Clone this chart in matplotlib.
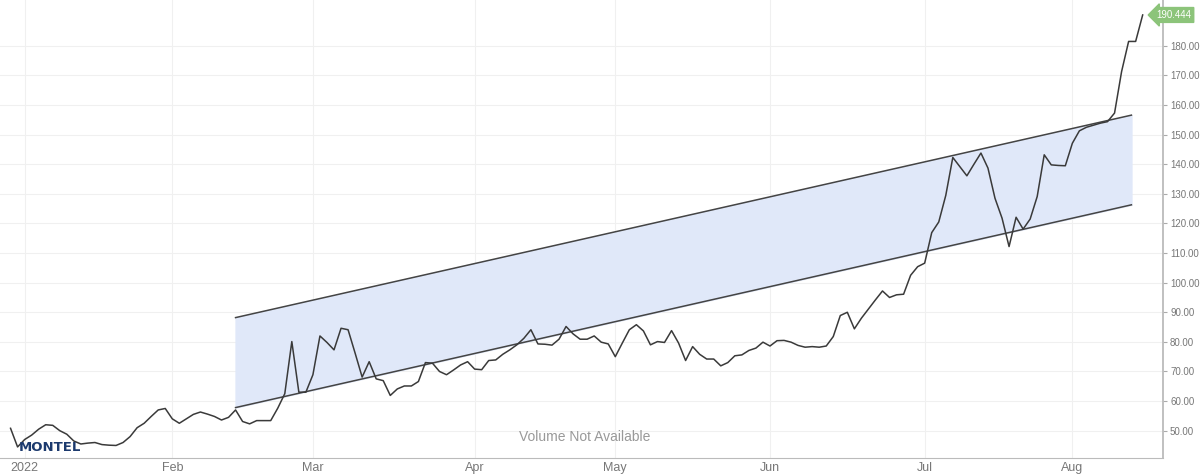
import matplotlib
matplotlib.use("Agg")
import matplotlib.pyplot as plt
import numpy as np
import pandas as pd

plt.rcParams['font.family'] = ['Liberation Sans', 'DejaVu Sans']

# trading days (Good Friday closed)
dates = pd.bdate_range('2021-12-30', '2022-08-15', freq='C', holidays=['2022-04-15'])

prices = [
    50.8, 44.5, 47.0, 48.5, 50.5, 52.0, 51.8, 50.0, 48.8, 46.5,
    45.5, 45.8, 46.0, 45.3, 45.1, 45.0, 46.0, 48.0, 51.0, 52.5,
    54.8, 57.0, 57.5, 54.0, 52.5, 54.0, 55.5, 56.3, 55.6, 54.8,
    53.6, 54.5, 57.0, 53.1, 52.3, 53.4, 53.4, 53.4, 57.6, 62.5,
    80.1, 63.0, 63.0, 68.9, 82.0, 79.8, 77.3, 84.6, 84.1, 76.2,
    68.1, 73.3, 67.5, 66.9, 61.9, 64.1, 65.1, 65.1, 66.6, 73.0,
    72.8, 70.0, 68.9, 70.5, 72.2, 73.3, 70.8, 70.6, 73.7, 73.9,
    75.8, 77.3, 79.0, 81.2, 84.1, 79.3, 79.2, 78.9, 80.9, 85.2,
    82.7, 80.9, 80.9, 82.0, 79.9, 79.3, 75.0, 79.6, 84.1, 85.8,
    83.7, 79.0, 80.1, 79.8, 83.8, 79.6, 73.7, 78.4, 75.8, 74.2,
    74.2, 71.9, 73.0, 75.3, 75.6, 77.1, 77.9, 79.9, 78.6, 80.4,
    80.5, 79.9, 78.8, 78.2, 78.4, 78.2, 78.6, 81.8, 88.9, 90.0,
    84.4, 88.0, 91.1, 94.2, 97.2, 95.0, 95.9, 96.1, 102.5, 105.4,
    106.6, 116.9, 120.5, 129.5, 142.3, 139.2, 136.1, 140.0, 143.8, 138.7,
    128.5, 121.8, 112.2, 122.1, 118.1, 121.5, 129.1, 143.2, 139.8, 139.6,
    139.5, 147.1, 151.3, 152.5, 153.2, 153.9, 154.4, 157.3, 171.3, 181.5,
    181.5, 190.444,
]

# trend channel (start/end in trading-day index)
channel_x = [32.0, 159.4]
channel_upper = [88.2, 156.6]
channel_lower = [57.8, 126.3]

month_labels = ['2022', 'Feb', 'Mar', 'Apr', 'May', 'Jun', 'Jul', 'Aug']
y_ticks = list(range(50, 190, 10))

x = np.arange(len(prices))
month_start = [int(np.argmax((dates.year == 2022) & (dates.month == m))) for m in range(1, 9)]

fig = plt.figure(figsize=(12.04, 4.75), dpi=100)
ax = fig.add_axes([0.0, 0.036, 0.966, 0.964])

ax.fill_between(channel_x, channel_lower, channel_upper, color='#e0e8f9', zorder=1)
ax.plot(channel_x, channel_upper, color='#444444', lw=1.1, zorder=2)
ax.plot(channel_x, channel_lower, color='#444444', lw=1.1, zorder=2)
ax.plot(x, prices, color='#3a3a3a', lw=1.1, zorder=3)

ax.set_xlim(-1.5, 163.9)
ax.set_ylim(40.8, 195.5)

ax.set_xticks(month_start)
ax.set_xticklabels(month_labels)
ax.set_yticks(y_ticks)
ax.set_yticklabels(['%.2f' % v for v in y_ticks])
ax.yaxis.tick_right()
ax.grid(True, color='#f0f0f0', lw=0.8)
ax.set_axisbelow(True)
ax.tick_params(axis='y', colors='#aaaaaa', labelcolor='#777777', labelsize=7, length=3, pad=2)
ax.tick_params(axis='x', colors='#cccccc', labelcolor='#777777', labelsize=9, length=0, pad=3)

for s in ['top', 'left']:
    ax.spines[s].set_visible(False)
ax.spines['bottom'].set_color('#bbbbbb')
ax.spines['right'].set_color('#bbbbbb')
ax.spines['right'].set_linewidth(1.3)

# last value tag
ax.annotate('%.3f' % prices[-1], xy=(0.993, prices[-1]), xycoords=('axes fraction', 'data'),
            xytext=(1, 0), textcoords='offset points', va='center', ha='left',
            fontsize=7, color='white',
            bbox=dict(boxstyle='larrow,pad=0.25', fc='#8cc47a', ec='#8cc47a'),
            annotation_clip=False, zorder=5)

ax.text(0.503, 0.046, 'Volume Not Available', transform=ax.transAxes,
        ha='center', va='center', fontsize=10, color='#999999')
ax.text(0.016, 0.023, 'MONTEL', transform=ax.transAxes, ha='left', va='center',
        fontsize=9.5, fontweight='bold', color='#1c3a6e', family='DejaVu Sans')

fig.savefig('out.png', dpi=100)
